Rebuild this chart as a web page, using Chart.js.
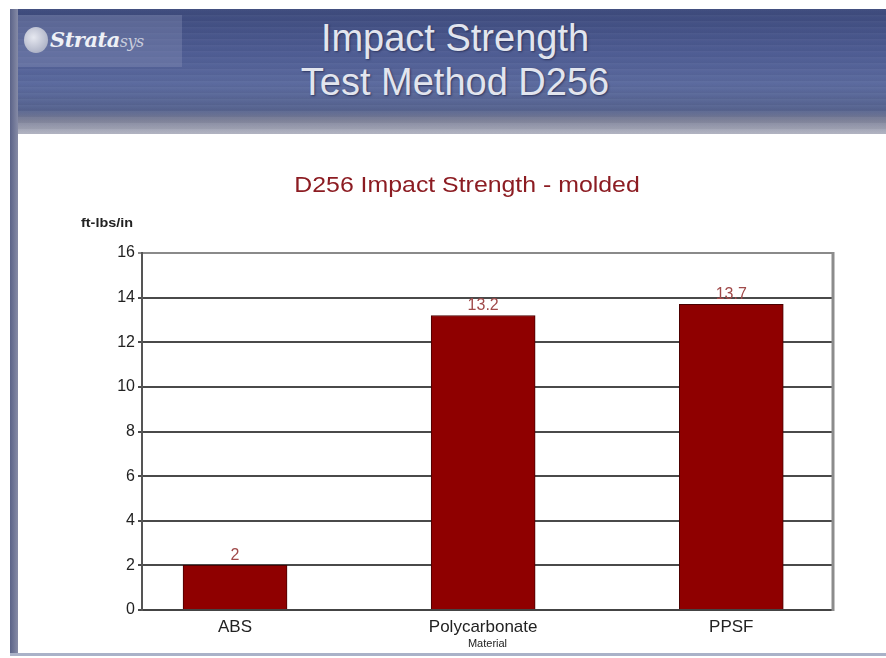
<!DOCTYPE html>
<html>
<head>
<meta charset="utf-8">
<script src="https://cdn.jsdelivr.net/npm/chart.js@4"></script>
<style>
  html, body { margin: 0; padding: 0; background: #fff; }
  #slide { position: relative; width: 886px; height: 658px; overflow: hidden; background: #fff; }
  #leftbar { position: absolute; left: 10px; top: 9px; width: 8px; height: 647px;
    background: linear-gradient(to right, #5b6388, #868ba6); }
  #header { position: absolute; left: 10px; top: 9px; width: 876px; height: 126px;
    background:
      repeating-linear-gradient(to bottom, rgba(255,255,255,0.04) 0px, rgba(255,255,255,0.0) 3px, rgba(0,0,0,0.03) 6px),
      linear-gradient(to bottom, #3d4a7c 0%, #4e5c93 35%, #5b6a9e 60%, #56638f 80%, #7c8098 88%, #9fa2b4 95%, #b9bbc8 100%); }
  #logo { position: absolute; left: 18px; top: 15px; width: 164px; height: 52px;
    background: rgba(140,150,185,0.35); }
  #logo .mark { position: absolute; left: 6px; top: 12px; width: 24px; height: 26px; border-radius: 50%;
    background: radial-gradient(circle at 40% 40%, #e6e8f0, #9aa0b8); }
  #logo .name { position: absolute; left: 32px; top: 12px; font-family: "DejaVu Serif", serif;
    font-style: italic; font-weight: bold; font-size: 21px; color: #eef0f6; letter-spacing: -0.5px; }
  #logo .name span { font-size: 16px; font-weight: normal; color: #c8ccdc; }
  .htitle { position: absolute; left: 10px; width: 890px; text-align: center;
    font-family: "Liberation Sans", Arial, sans-serif; font-size: 38px; color: #e2e5ee;
    text-shadow: 1px 1px 2px rgba(20,25,60,0.6); }
  #panel { position: absolute; left: 18px; top: 134px; width: 868px; height: 517px; background: #fff; }
  #bottomline { position: absolute; left: 10px; top: 653px; width: 876px; height: 3px; background: #aab2c8; }
</style>
</head>
<body>
<div id="slide">
  <div id="header"></div>
  <div id="leftbar"></div>
  <div id="logo"><div class="mark"></div><div class="name">Strata<span>sys</span></div></div>
  <div class="htitle" style="top:17px;">Impact Strength</div>
  <div class="htitle" style="top:61px;">Test Method D256</div>
  <div id="panel"><canvas id="chart"></canvas></div>
  <div id="bottomline"></div>
</div>
<script>
// data
const categories = ["ABS", "Polycarbonate", "PPSF"];
const strength = [2, 13.2, 13.7];
const yTicks = [0, 2, 4, 6, 8, 10, 12, 14, 16];

const chartTitle = "D256 Impact Strength - molded";
const yUnit = "ft-lbs/in";
const xTitle = "Material";

const ctx = document.getElementById("chart");

// title, unit label, right frame line, value labels
const extras = {
  id: "extras",
  afterDatasetsDraw(chart) {
    const c = chart.ctx;
    const area = chart.chartArea;
    c.save();
    // right frame
    c.strokeStyle = "#8c8c8c";
    c.lineWidth = 3;
    c.beginPath();
    c.moveTo(area.right, area.top - 1);
    c.lineTo(area.right, area.bottom + 1);
    c.stroke();

    // value labels
    const meta = chart.getDatasetMeta(0);
    c.fillStyle = "#a04a4a";
    c.font = "16px 'Liberation Sans', Arial, sans-serif";
    c.textAlign = "center";
    c.textBaseline = "bottom";
    meta.data.forEach((el, i) => {
      c.fillText(String(strength[i]), el.x, el.y - 2);
    });

    // chart title
    c.save();
    c.translate(449, 52);
    c.scale(1.13, 1);
    c.fillStyle = "#8c1c22";
    c.font = "22px 'Liberation Sans', Arial, sans-serif";
    c.textBaseline = "middle";
    c.fillText(chartTitle, 0, 0);
    c.restore();

    // unit label
    c.save();
    c.translate(area.left - 9, 90);
    c.scale(1.2, 1);
    c.fillStyle = "#222";
    c.font = "bold 12px 'Liberation Sans', Arial, sans-serif";
    c.textAlign = "right";
    c.textBaseline = "middle";
    c.fillText(yUnit, 0, 0);
    c.restore();
    c.restore();
  },
};

new Chart(ctx, {
  type: "bar",
  data: {
    datasets: [
      {
        data: strength.map((v, i) => ({ x: i, y: v })),
        backgroundColor: "#8f0000",
        borderColor: "#4a0000",
        borderWidth: 1,
        barThickness: 104,
      },
    ],
  },
  options: {
    responsive: true,
    maintainAspectRatio: false,
    animation: false,
    layout: {
      padding: { top: 119, right: 53, left: 0, bottom: 0 },
    },
    plugins: {
      legend: { display: false },
      tooltip: { enabled: false },
    },
    scales: {
      x: {
        type: "linear",
        offset: false,
        min: -0.375,
        max: 2.41,
        afterBuildTicks: (s) => {
          s.ticks = categories.map((c, i) => ({ value: i }));
        },
        afterFit: (s) => {
          s.height = 41;
        },
        grid: { display: false, drawTicks: false, offset: false },
        border: { display: true, color: "#444", width: 2 },
        ticks: {
          padding: 7,
          color: "#222",
          font: { family: "'Liberation Sans', Arial, sans-serif", size: 17 },
          callback: (v) => categories[v],
        },
        title: {
          display: true,
          text: xTitle,
          color: "#222",
          padding: 0,
          font: { family: "'Liberation Sans', Arial, sans-serif", size: 11 },
        },
      },
      y: {
        min: 0,
        max: 16,
        afterBuildTicks: (s) => {
          s.ticks = yTicks.map((v) => ({ value: v }));
        },
        afterFit: (s) => {
          s.width = 124;
        },
        grid: {
          color: (c) => (c.tick && c.tick.value === 16 ? "#8a8a8a" : "#4a4a4a"),
          lineWidth: 2,
          tickLength: 4,
        },
        border: { display: true, color: "#555", width: 2 },
        ticks: {
          padding: 3,
          color: "#222",
          font: { family: "'Liberation Sans', Arial, sans-serif", size: 16 },
        },
      },
    },
  },
  plugins: [extras],
});
</script>
</body>
</html>
